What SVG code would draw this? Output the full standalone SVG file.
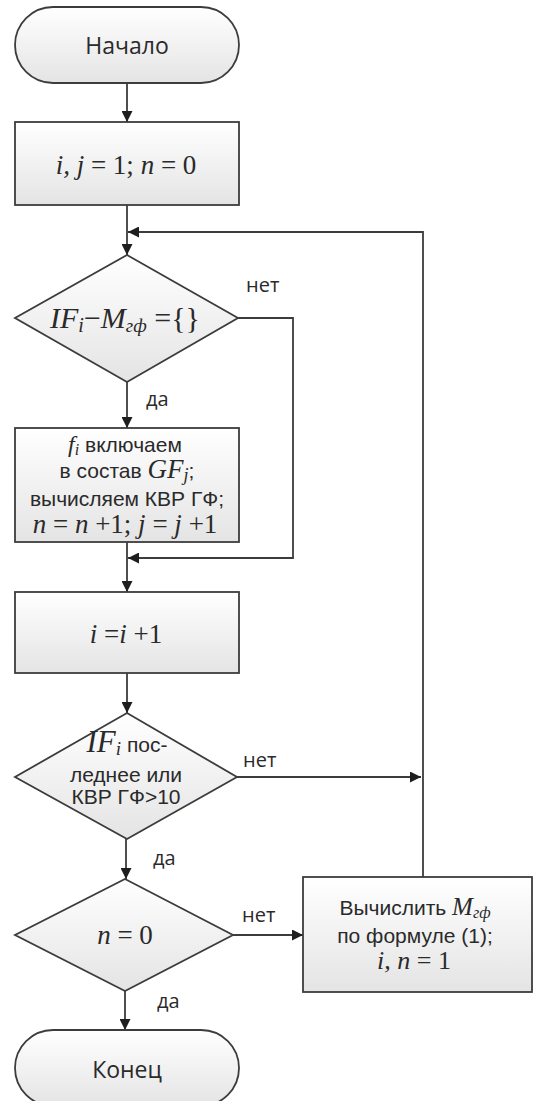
<svg xmlns="http://www.w3.org/2000/svg" width="533" height="1101" viewBox="0 0 533 1101">
<style>
.shape{fill:url(#g);stroke:#3c3c3c;stroke-width:1.8}
.ln{fill:none;stroke:#3c3c3c;stroke-width:1.8}
.lbl{font-family:"Open Sans","DejaVu Sans",sans-serif;font-size:20px;fill:#2a2a2a}
.term{font-family:"Open Sans","DejaVu Sans",sans-serif;font-size:23px;fill:#2a2a2a;text-anchor:middle}
.ar{font-family:"Liberation Sans",Arial,sans-serif;font-size:21px;fill:#2a2a2a;text-anchor:middle}
.m{font-family:"Liberation Serif","Times New Roman",serif;font-style:italic;fill:#2a2a2a}
.mu{font-family:"Liberation Serif","Times New Roman",serif;font-style:normal;fill:#2a2a2a}
</style>
<defs>
<linearGradient id="g" x1="0" y1="0" x2="0" y2="1">
<stop offset="0" stop-color="#ffffff"/>
<stop offset="1" stop-color="#e4e4e4"/>
</linearGradient>
<marker id="a" viewBox="0 0 10 10" refX="10" refY="5" markerWidth="11" markerHeight="11" markerUnits="userSpaceOnUse" orient="auto">
<path d="M0,0 L10,5 L0,10 z" fill="#1e1e1e"/>
</marker>
</defs>

<g id="connectors">
<line class="ln" x1="127" y1="83" x2="127" y2="122" marker-end="url(#a)"/>
<line class="ln" x1="127" y1="205" x2="127" y2="255" marker-end="url(#a)"/>
<polyline class="ln" points="423,877 423,232 128,232" marker-end="url(#a)"/>
<polyline class="ln" points="238,318 293,318 293,558 128,558" marker-end="url(#a)"/>
<line class="ln" x1="127" y1="382" x2="127" y2="428" marker-end="url(#a)"/>
<line class="ln" x1="127" y1="542" x2="127" y2="592" marker-end="url(#a)"/>
<line class="ln" x1="127" y1="673" x2="127" y2="713" marker-end="url(#a)"/>
<line class="ln" x1="237" y1="777" x2="421" y2="777" marker-end="url(#a)"/>
<line class="ln" x1="126" y1="839" x2="126" y2="879" marker-end="url(#a)"/>
<line class="ln" x1="233" y1="935" x2="303" y2="935" marker-end="url(#a)"/>
<line class="ln" x1="125" y1="991" x2="125" y2="1030" marker-end="url(#a)"/>
<text class="lbl" x="246" y="292">нет</text>
<text class="lbl" x="146" y="406">да</text>
<text class="lbl" x="243" y="767">нет</text>
<text class="lbl" x="153" y="865">да</text>
<text class="lbl" x="242" y="922">нет</text>
<text class="lbl" x="157" y="1008">да</text>
</g>

<g id="start">
<rect class="shape" x="15" y="7" width="224" height="76" rx="38" ry="38"/>
<text class="term" x="127" y="54">Начало</text>
</g>

<g id="init">
<rect class="shape" x="15" y="122" width="224" height="83"/>
<text class="m" x="126" y="174" font-size="27" text-anchor="middle">i, j <tspan class="mu">= 1;</tspan> n <tspan class="mu">= 0</tspan></text>
</g>

<g id="cond1">
<polygon class="shape" points="127,255 238,318 127,382 15,318"/>
<text class="m" x="125" y="328" font-size="30" text-anchor="middle">IF<tspan font-size="20" dy="4">i</tspan><tspan class="mu" dy="-4">−</tspan>M<tspan font-size="19" dy="4">гф</tspan><tspan class="mu" dy="-4"> ={}</tspan></text>
</g>

<g id="include">
<rect class="shape" x="15" y="428" width="224" height="114"/>
<text class="ar" x="125" y="452"><tspan class="m" font-size="24">f</tspan><tspan class="m" font-size="16" dy="3">i</tspan><tspan dy="-3"> включаем</tspan></text>
<text class="ar" x="127" y="478">в состав <tspan class="m" font-size="27">GF</tspan><tspan class="m" font-size="18" dy="3">j</tspan><tspan dy="-3">;</tspan></text>
<text class="ar" x="127" y="506">вычисляем КВР ГФ;</text>
<text class="m" x="125" y="533" font-size="27" text-anchor="middle">n <tspan class="mu">=</tspan> n <tspan class="mu">+1;</tspan>  j <tspan class="mu">=</tspan> j <tspan class="mu">+1</tspan></text>
</g>

<g id="inc">
<rect class="shape" x="15" y="592" width="224" height="81"/>
<text class="m" x="126" y="643" font-size="27" text-anchor="middle">i <tspan class="mu">=</tspan>i <tspan class="mu">+1</tspan></text>
</g>

<g id="cond2">
<polygon class="shape" points="127,713 237,777 127,839 15,777"/>
<text x="127" y="752" text-anchor="middle"><tspan class="m" font-size="31">IF</tspan><tspan class="m" font-size="19" dy="3">i</tspan><tspan class="ar" font-size="19" dy="-3"> пос-</tspan></text>
<text class="ar" x="126" y="782" font-size="20">леднее или</text>
<text class="ar" x="126" y="804" font-size="20">КВР ГФ&gt;10</text>
</g>

<g id="cond3">
<polygon class="shape" points="125,879 233,935 125,991 15,935"/>
<text class="m" x="125" y="944" font-size="27" text-anchor="middle">n <tspan class="mu">= 0</tspan></text>
</g>

<g id="compute">
<rect class="shape" x="303" y="877" width="229" height="115"/>
<text class="ar" x="415" y="915" font-size="20">Вычислить <tspan class="m" font-size="25">M</tspan><tspan class="m" font-size="16" dy="3">гф</tspan></text>
<text class="ar" x="415" y="943" font-size="20">по формуле (1);</text>
<text class="m" x="414" y="969" font-size="26" text-anchor="middle">i, n <tspan class="mu">= 1</tspan></text>
</g>

<g id="end">
<rect class="shape" x="15" y="1030" width="224" height="76" rx="38" ry="38"/>
<text class="term" x="127" y="1078">Конец</text>
</g>
</svg>
